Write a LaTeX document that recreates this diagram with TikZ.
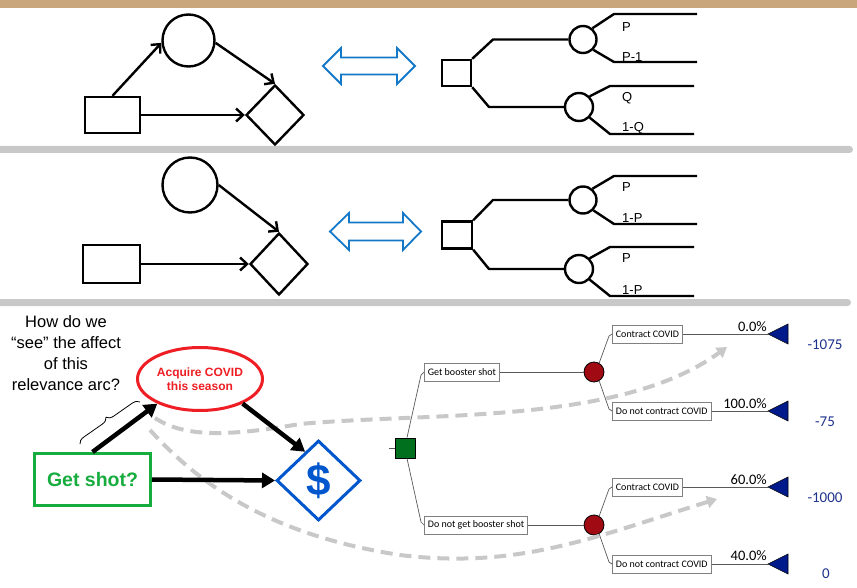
\documentclass[tikz,border=0pt]{standalone}
\usepackage{fontspec}
\setmainfont{Liberation Sans}
\newfontfamily\treefont{Carlito}
\usetikzlibrary{arrows.meta,shapes.geometric,decorations.pathreplacing,calc}
\definecolor{tanbar}{RGB}{201,166,124}
\definecolor{bargray}{RGB}{200,200,200}
\definecolor{dablue}{RGB}{20,120,200}
\definecolor{covred}{RGB}{238,30,36}
\definecolor{shotgreen}{RGB}{22,172,62}
\definecolor{dolblue}{RGB}{0,86,204}
\definecolor{treegreen}{RGB}{0,112,30}
\definecolor{treered}{RGB}{160,10,18}
\definecolor{navy}{RGB}{0,26,140}
\definecolor{valblue}{RGB}{30,50,140}
\definecolor{dashgray}{RGB}{200,200,200}
\begin{document}
\begin{tikzpicture}[x=1pt,y=-1pt,
  idnode/.style={draw=black, line width=2.4pt, fill=white, inner sep=0pt},
  idarr/.style={line width=2.4pt, -{Straight Barb[length=7pt,width=13pt]}},
  treeln/.style={line width=2.4pt, line join=round},
  probtxt/.style={font=\fontsize{13}{14}\selectfont, anchor=west, inner sep=0pt},
  dblarr/.style={draw=dablue, line width=1.8pt, fill=white, line join=miter},
  bigarr/.style={line width=4.5pt, -{Triangle[length=13pt,width=15pt]}},
  dasharr/.style={draw=dashgray, line width=4pt, dash pattern=on 12pt off 7pt, -{Triangle[length=10pt,width=12pt]}},
  tl/.style={draw=black!65, line width=0.7pt},
  tbox/.style={draw=black!50, fill=white, line width=0.8pt, font=\treefont\fontsize{10}{12}\selectfont, inner xsep=3.5pt, inner ysep=0pt, minimum height=18pt, anchor=west},
  chnode/.style={draw=black, fill=treered, circle, minimum size=20pt, inner sep=0pt, line width=0.8pt},
  pct/.style={font=\treefont\fontsize{14.5}{16}\selectfont, anchor=base east, inner sep=0pt},
  valtxt/.style={font=\treefont\fontsize{15}{17}\selectfont, text=valblue, inner sep=0pt},
  endtri/.style={fill=navy, draw=black, line width=0.6pt, line join=miter}
]
\useasboundingbox (0,0) rectangle (857,588);
% background bars
\fill[tanbar] (0,0) rectangle (857,8);
\fill[bargray, rounded corners=3.5pt] (-6,146) rectangle (853,153);
\fill[bargray, rounded corners=3.5pt] (-6,299) rectangle (851,306);

% ---------- panel 1 ----------
\node[idnode, minimum width=55pt, minimum height=36pt] (r1) at (112.5,115) {};
\node[idnode, circle, minimum size=52pt] (c1) at (188.5,40.5) {};
\node[idnode, diamond, minimum width=58pt, minimum height=60pt] (d1) at (275,115) {};
\draw[idarr] (r1.north) -- (c1.185);
\draw[idarr] (c1.355) -- (d1.north);
\draw[idarr] (r1.east) -- (d1.west);
\draw[dblarr] (323,66) -- (341,48) -- (341,57.5) -- (397,57.5) -- (397,48) -- (415,66) -- (397,84) -- (397,74.5) -- (341,74.5) -- (341,84) -- cycle;

\node[idnode, minimum width=29pt, minimum height=26pt] (s1) at (456.5,73) {};
\node[idnode, circle, minimum size=27pt] (k1) at (583,39.5) {};
\node[idnode, circle, minimum size=28pt] (k2) at (579,107) {};
\coordinate (k1a) at (614,14); \coordinate (k1b) at (697,14);
\coordinate (k1c) at (614,62); \coordinate (k1d) at (697,62);
\coordinate (k2a) at (610,86); \coordinate (k2b) at (694,86);
\coordinate (k2c) at (610,134); \coordinate (k2d) at (694,134);
\draw[treeln] (s1.north east) -- (493,39.5) -- (k1.west);
\draw[treeln] (s1.south east) -- (489,107) -- (k2.west);
\draw[treeln] (k1.50) -- (k1a) -- (k1b);
\draw[treeln] (k1.-45) -- (k1c) -- (k1d);
\draw[treeln] (k2.45) -- (k2a) -- (k2b);
\draw[treeln] (k2.-45) -- (k2c) -- (k2d);
\node[probtxt] (l1) at (622,27) {P};
\node[probtxt] (l2) at (622,57) {P-1};
\node[probtxt] (l3) at (622,98) {Q};
\node[probtxt] (l4) at (622,128) {1-Q};

% ---------- panel 2 ----------
\node[idnode, minimum width=57pt, minimum height=38pt] (r2) at (111.5,264) {};
\node[idnode, circle, minimum size=55pt] (c2) at (190,185) {};
\node[idnode, diamond, minimum width=58pt, minimum height=62pt] (d2) at (279,264) {};
\draw[idarr] (c2.east) -- (d2.north);
\draw[idarr] (r2.east) -- (d2.west);
\draw[dblarr] (330,231.5) -- (349,213) -- (349,222.5) -- (403,222.5) -- (403,213) -- (421,231.5) -- (403,250) -- (403,240.5) -- (349,240.5) -- (349,250) -- cycle;

\node[idnode, minimum width=30pt, minimum height=27pt] (s2) at (457,235) {};
\node[idnode, circle, minimum size=27pt] (k3) at (583,200) {};
\node[idnode, circle, minimum size=28pt] (k4) at (579,269) {};
\coordinate (k3a) at (614,176); \coordinate (k3b) at (697,176);
\coordinate (k3c) at (614,224); \coordinate (k3d) at (697,224);
\coordinate (k4a) at (610,247); \coordinate (k4b) at (694,247);
\coordinate (k4c) at (610,296); \coordinate (k4d) at (694,296);
\draw[treeln] (s2.north east) -- (493,200) -- (k3.west);
\draw[treeln] (s2.south east) -- (489,269) -- (k4.west);
\draw[treeln] (k3.50) -- (k3a) -- (k3b);
\draw[treeln] (k3.-45) -- (k3c) -- (k3d);
\draw[treeln] (k4.45) -- (k4a) -- (k4b);
\draw[treeln] (k4.-45) -- (k4c) -- (k4d);
\node[probtxt] (m1) at (622,187) {P};
\node[probtxt] (m2) at (622,218) {1-P};
\node[probtxt] (m3) at (622,258) {P};
\node[probtxt] (m4) at (622,290) {1-P};

% ---------- panel 3: decision tree ----------
\node[draw=black, fill=treegreen, line width=0.8pt, minimum size=20pt, inner sep=0pt] (sq) at (405,448) {};
\coordinate (stub) at (389,448);
\draw[tl] (sq.west) -- (stub);
\node[tbox] (gb) at (424,372) {Get booster shot};
\node[tbox] (ngb) at (424,525) {Do not get booster shot};
\node[chnode] (ch1) at (594,372) {};
\node[chnode] (ch2) at (594,525) {};
\node[tbox] (cc1) at (612,334) {Contract COVID};
\node[tbox] (nc1) at (612,411) {Do not contract COVID};
\node[tbox] (cc2) at (612,487) {Contract COVID};
\node[tbox] (nc2) at (612,564) {Do not contract COVID};
\draw[tl] ([xshift=2pt]sq.north) -- ($(gb.west)+(-3,3)$) -- (gb.west);
\draw[tl] ([xshift=2pt]sq.south) -- ($(ngb.west)+(-3,-3)$) -- (ngb.west);
\draw[tl] (gb.east) -- (ch1.west);
\draw[tl] (ngb.east) -- (ch2.west);
\draw[tl] (ch1.60) -- ($(cc1.west)+(-3,2)$) -- (cc1.west);
\draw[tl] (ch1.-60) -- ($(nc1.west)+(-3,-2)$) -- (nc1.west);
\draw[tl] (ch2.60) -- ($(cc2.west)+(-3,2)$) -- (cc2.west);
\draw[tl] (ch2.-60) -- ($(nc2.west)+(-3,-2)$) -- (nc2.west);
\coordinate (e1) at (768,334);
\coordinate (e2) at (768,411);
\coordinate (e3) at (768,487);
\coordinate (e4) at (768,564);
\draw[tl] (cc1.east) -- (e1);
\draw[tl] (nc1.east) -- (e2);
\draw[tl] (cc2.east) -- (e3);
\draw[tl] (nc2.east) -- (e4);
\foreach \e in {e1,e2,e3,e4}{
  \filldraw[endtri] (\e) -- ++(20,-10) -- ++(0,20) -- cycle;
}
\node[pct] (p1) at (767,331) {0.0\%};
\node[pct] (p2) at (767,408) {100.0\%};
\node[pct] (p3) at (767,484) {60.0\%};
\node[pct] (p4) at (767,560) {40.0\%};
\node[valtxt] (v1) at (825,345) {-1075};
\node[valtxt] (v2) at (825,422) {-75};
\node[valtxt] (v3) at (825,498) {-1000};
\node[valtxt] (v4) at (826,574) {0};

% ---------- panel 3: influence diagram ----------
\node[align=center, font=\fontsize{16.5}{21}\selectfont, inner sep=0pt] (q) at (66,353.5) {How do we\\“see” the affect\\of this\\relevance arc?};
\node[draw=shotgreen, line width=3pt, fill=white, minimum width=116pt, minimum height=52pt, inner sep=0pt, text=shotgreen, font=\bfseries\fontsize{19.5}{22}\selectfont] (shot) at (92.5,479.5) {Get shot?};
\node[ellipse, draw=covred, line width=3pt, fill=white, minimum width=125pt, minimum height=63pt, inner sep=0pt, text=covred, align=center, font=\bfseries\fontsize{12}{14}\selectfont] (ell) at (200,379) {Acquire COVID\\this season};
\node[diamond, draw=dolblue, line width=3pt, fill=white, minimum width=84pt, minimum height=80pt, inner sep=0pt, text=dolblue, font=\bfseries\fontsize{44}{46}\selectfont] (dol) at (318.5,480.5) {\$};

\coordinate (g1s) at (155,418);
\coordinate (g1e) at (727,347);
\coordinate (g2s) at (150,430);
\coordinate (g2e) at (717,499);
\draw[dasharr] (g1s) .. controls (185,438) and (230,436) .. (300,424) .. controls (430,412) and (620,425) .. (g1e);
\draw[dasharr] (g2s) .. controls (200,485) and (270,535) .. (400,555) .. controls (520,570) and (600,535) .. (g2e);

\draw[bigarr] (shot.north) -- (ell.210);
\draw[bigarr] (ell.-30) -- (dol.115);
\draw[bigarr] (shot.east) -- (dol.west);

\coordinate (brA) at (80,444);
\coordinate (brB) at (140,402);
\draw[decorate, decoration={brace, amplitude=7pt}, line width=0.8pt] (brA) -- (brB);
\end{tikzpicture}
\end{document}
